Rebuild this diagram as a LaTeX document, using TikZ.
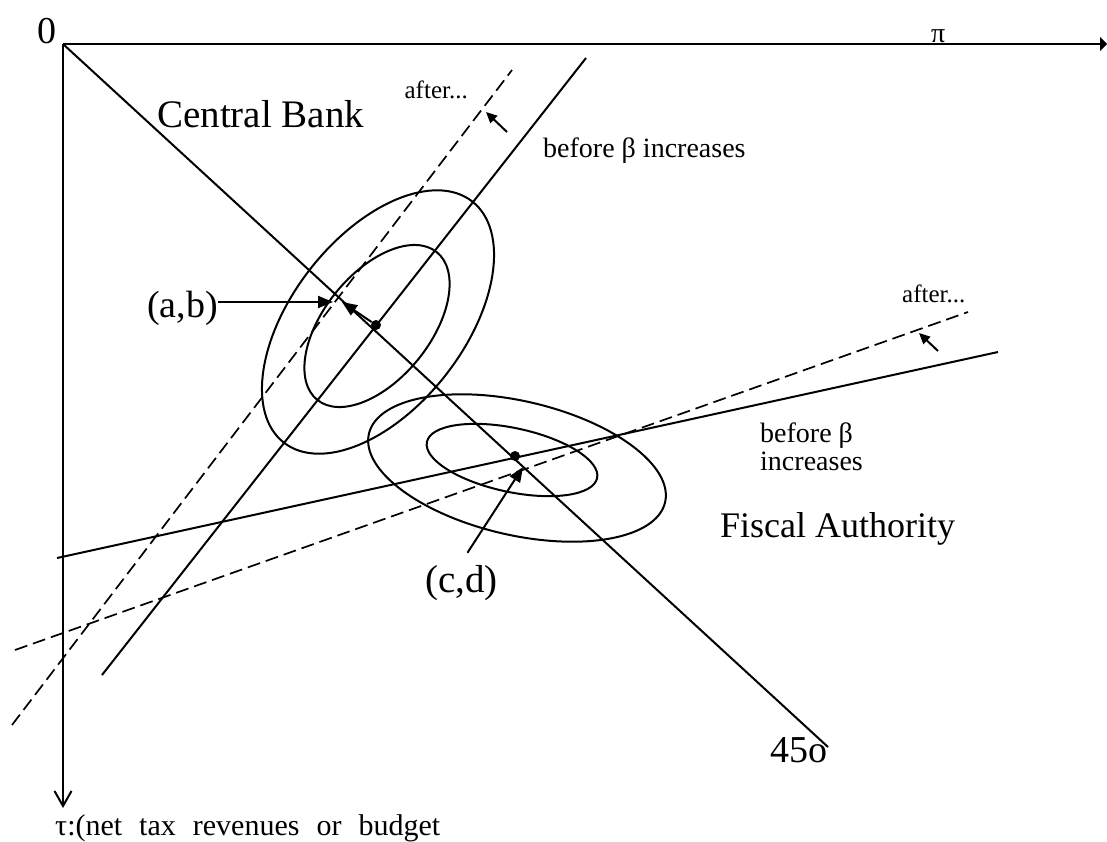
\documentclass[tikz,border=0pt]{standalone}
\usepackage{fontspec}
\setmainfont{Liberation Serif}
\usetikzlibrary{positioning,arrows.meta}

\begin{document}
\begin{tikzpicture}[
  x=1pt, y=-1pt,
  axis/.style={line width=2pt},
  curve/.style={line width=2pt},
  shifted/.style={line width=1.7pt, dash pattern=on 13pt off 6pt},
  contour/.style={line width=2pt},
  pointer/.style={-{Triangle[length=15pt,width=12pt]}, line width=2pt},
  nudge/.style={-{Triangle[length=11pt,width=10pt]}, line width=2pt},
  big/.style={font=\fontsize{38}{40}\selectfont, inner sep=0pt, anchor=base west},
  mid/.style={font=\fontsize{28}{28}\selectfont, inner sep=0pt, anchor=base west, align=left},
  tiny/.style={font=\fontsize{25}{25}\selectfont, inner sep=0pt},
  dot/.style={circle, fill=black, inner sep=0pt, minimum size=10pt},
]
\useasboundingbox (0,0) rectangle (1107,841);

% ---- axes ----
\coordinate (orig) at (63,44);
\coordinate (xend) at (1107,44);
\coordinate (yend) at (63,808);
\draw[axis, -{Triangle[length=7pt,width=14pt]}] (orig) -- (xend);
\draw[axis, -{Straight Barb[length=15pt,width=17pt]}] (orig) -- (yend);
\node[big, anchor=base east] (zero) at (57,43) {0};
\node[font=\fontsize{28}{30}\selectfont, inner sep=0pt, anchor=base west] (pi) at (931,42) {π};
\node[font=\fontsize{30}{30}\selectfont, inner sep=0pt, anchor=base west] (tau) at (55,835)
  {\spaceskip=17pt τ:(net tax revenues or budget};

% ---- 45 degree line ----
\coordinate (diagend) at (828,747);
\draw[curve] (orig) -- (diagend);
\node[big] (deg) at (770,762) {45o};

% ---- central bank ----
\coordinate (cblo) at (102,675);
\coordinate (cbhi) at (586,58);
\coordinate (cbdlo) at (12,725);
\coordinate (cbdhi) at (512,70);
\draw[curve] (cblo) -- (cbhi);
\draw[shifted] (cbdlo) -- (cbdhi);
\draw[contour, rotate around={52:(378,322)}] (378,322) ellipse [x radius=153, y radius=86];
\draw[contour, rotate around={51:(377,326)}] (377,326) ellipse [x radius=95, y radius=53];
\node[dot] (cbdot) at (376,325) {};

% ---- fiscal authority ----
\coordinate (falo) at (57,558);
\coordinate (fahi) at (998,352);
\coordinate (fadlo) at (15,650);
\coordinate (fadhi) at (968,312);
\draw[curve] (falo) -- (fahi);
\draw[shifted] (fadlo) -- (fadhi);
\draw[contour, rotate around={-13:(517,468)}] (517,468) ellipse [x radius=152, y radius=67];
\draw[contour, rotate around={-12:(512,460)}] (512,460) ellipse [x radius=87, y radius=32];
\node[dot] (fadot) at (515,456) {};

% ---- labels ----
\node[big, font=\fontsize{39}{40}\selectfont] (cb) at (157,127) {Central Bank};
\node[tiny, anchor=base east] (cbafter) at (468,98) {after...};
\node[mid] (cbbefore) at (543,157) {before β increases};
\node[tiny, anchor=base west] (faafter) at (902,302) {after...};
\node[mid] (fabefore) at (760,470) {before β\\increases};
\node[big, font=\fontsize{36}{40}\selectfont] (fa) at (720,537) {Fiscal Authority};
\node[big] (ab) at (147,317) {(a,b)};
\node[big, font=\fontsize{39}{40}\selectfont] (cd) at (425,592) {(c,d)};

% ---- pointers ----
\coordinate (abtip) at (333,302);
\coordinate (cbtip) at (342,302);
\coordinate (cdtip) at (523,467);
\coordinate (cbnudge) at (507,132);
\coordinate (cbnudgetip) at (486,112);
\coordinate (fanudge) at (938,351);
\coordinate (fanudgetip) at (919,333);
\draw[pointer] (ab.east |- abtip) -- (abtip);
\draw[pointer] (cbdot) -- (cbtip);
\draw[pointer] ([shift={(6,-12)}]cd.north) -- (cdtip);
\draw[nudge] (cbnudge) -- (cbnudgetip);
\draw[nudge] (fanudge) -- (fanudgetip);

\end{tikzpicture}
\end{document}
